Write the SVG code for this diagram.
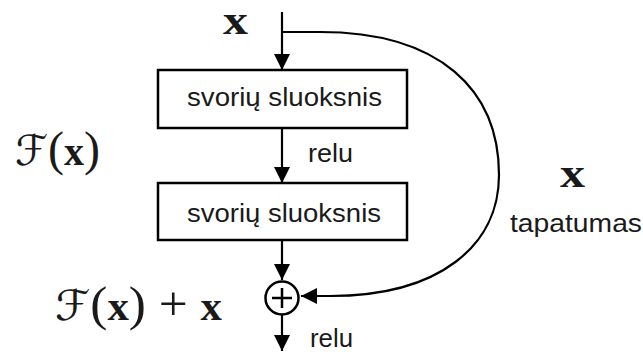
<svg xmlns="http://www.w3.org/2000/svg" width="643" height="352" viewBox="0 0 643 352">
  <defs>
    <marker id="arrow" viewBox="0 0 16 16" refX="16" refY="8" markerWidth="16" markerHeight="16" markerUnits="userSpaceOnUse" orient="auto">
      <path d="M0,0 L16,8 L0,16 Z" fill="#000"/>
    </marker>
    <style>
      .box { fill: #fff; stroke: #000; stroke-width: 2.5; }
      .wire { fill: none; stroke: #000; stroke-width: 2.2; }
      .lbl { font-family: "Liberation Sans", Arial, sans-serif; font-size: 26px; fill: #1a1a1a; }
      .math { font-family: "Liberation Serif", "Times New Roman", serif; font-size: 40px; fill: #1a1a1a; }
      .bx { font-weight: bold; }
      .par { font-size: 48px; }
      .cal { font-family: "DejaVu Serif", "DejaVu Sans", "Noto Sans", serif; font-style: italic; font-size: 42px; }
    </style>
  </defs>
  <rect width="643" height="352" fill="#fff"/>

  <!-- connectors -->
  <g id="connectors">
    <line class="wire" x1="282" y1="12" x2="282" y2="70" marker-end="url(#arrow)"/>
    <line class="wire" x1="282" y1="128" x2="282" y2="183" marker-end="url(#arrow)"/>
    <line class="wire" x1="282" y1="240" x2="282" y2="280" marker-end="url(#arrow)"/>
    <line class="wire" x1="282" y1="315" x2="282" y2="351" marker-end="url(#arrow)"/>
    <!-- identity shortcut -->
    <path class="wire" d="M282,32 H320 C440,32 499,90 499,175 C499,245 440,296 330,296 H301" marker-end="url(#arrow)"/>
  </g>

  <!-- weight layers -->
  <g id="layer1">
    <rect class="box" x="158" y="70" width="249" height="58"/>
    <text class="lbl" x="187" y="106" textLength="195" lengthAdjust="spacingAndGlyphs">svorių sluoksnis</text>
  </g>
  <g id="layer2">
    <rect class="box" x="158" y="183" width="249" height="57"/>
    <text class="lbl" x="187" y="222" textLength="194" lengthAdjust="spacingAndGlyphs">svorių sluoksnis</text>
  </g>

  <!-- addition node -->
  <g id="sum">
    <circle cx="282" cy="298" r="16.5" fill="#fff" stroke="#000" stroke-width="2.5"/>
    <line x1="272" y1="298" x2="292" y2="298" stroke="#000" stroke-width="2.5"/>
    <line x1="282" y1="288" x2="282" y2="308" stroke="#000" stroke-width="2.5"/>
  </g>

  <!-- labels -->
  <g id="labels">
    <text class="math bx" x="223" y="34" font-size="33" textLength="25" lengthAdjust="spacingAndGlyphs">x</text>
    <text class="lbl" x="308" y="162" textLength="45" lengthAdjust="spacingAndGlyphs">relu</text>
    <text class="lbl" x="310" y="347" textLength="43" lengthAdjust="spacingAndGlyphs">relu</text>
    <text class="math bx" x="560" y="187" font-size="36" textLength="25" lengthAdjust="spacingAndGlyphs">x</text>
    <text class="lbl" x="510" y="232" textLength="132" lengthAdjust="spacingAndGlyphs">tapatumas</text>
    <text class="math" x="15" y="165" textLength="85" lengthAdjust="spacingAndGlyphs"><tspan class="cal">ℱ</tspan><tspan class="par">(</tspan><tspan class="bx">x</tspan><tspan class="par">)</tspan></text>
    <text class="math" x="55" y="320" textLength="167" lengthAdjust="spacingAndGlyphs"><tspan class="cal">ℱ</tspan><tspan class="par">(</tspan><tspan class="bx">x</tspan><tspan class="par">)</tspan><tspan class="par"> + </tspan><tspan class="bx">x</tspan></text>
  </g>
</svg>
